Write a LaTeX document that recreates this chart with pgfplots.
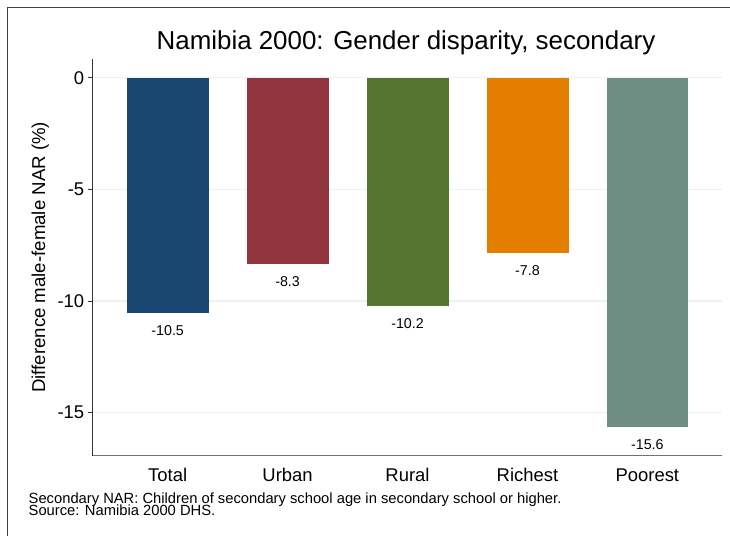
\documentclass[border=0pt]{standalone}
\usepackage{fontspec}
\setmainfont{Liberation Sans}
\usepackage{pgfplots}
\pgfplotsset{compat=1.18}
\definecolor{snavy}{HTML}{1A476F}
\definecolor{smaroon}{HTML}{90353B}
\definecolor{sgreen}{HTML}{55752F}
\definecolor{sorange}{HTML}{E37E00}
\definecolor{steal}{HTML}{6E8E84}
\definecolor{sgrid}{HTML}{EAF2F3}
\begin{document}
\begin{tikzpicture}[x=1bp,y=1bp]
  \path[use as bounding box] (0,0) rectangle (730,536);
  % outer frame (Stata graph region)
  \draw[black!75, line width=0.8bp] (7,-20) rectangle (760,529);
  \begin{axis}[
      at={(92.7bp,80.3bp)}, anchor=south west,
      scale only axis,
      width=629bp, height=396.7bp,
      xmin=-0.625, xmax=4.62,
      ymin=-16.93, ymax=0.84,
      axis x line*=bottom,
      axis y line*=left,
      x axis line style={black!55, line width=1.2bp},
      y axis line style={black!80, line width=0.8bp},
      ymajorgrids,
      grid style={sgrid, line width=1.2bp},
      tick align=outside,
      major tick length=5bp,
      xtick={0,1,2,3,4},
      xticklabels={Total, Urban, Rural, Richest, Poorest},
      xtick style={draw=none},
      ytick={-15,-10,-5,0},
      yticklabels={-15,-10,-5,0},
      ytick style={black!80, line width=0.8bp},
      xticklabel style={font=\fontsize{18.5}{21}\selectfont, anchor=base, yshift=-21bp},
      yticklabel style={font=\fontsize{18.5}{21}\selectfont},
      ylabel={Difference male-female NAR (\%)},
      ylabel style={font=\fontsize{18.7}{21}\selectfont,
        at={(axis description cs:-0.0758,0.5)}, anchor=base},
      ybar, bar width=80.6bp, bar shift=0pt,
      point meta=explicit symbolic,
      nodes near coords,
      every node near coord/.append style={font=\fontsize{14.3}{16}\selectfont,
        anchor=north, inner sep=0pt, yshift=-13bp, black},
    ]
    \addplot[fill=snavy, draw=snavy] coordinates {(0,-10.5) [-10.5]};
    \addplot[fill=smaroon, draw=smaroon] coordinates {(1,-8.3) [-8.3]};
    \addplot[fill=sgreen, draw=sgreen] coordinates {(2,-10.2) [-10.2]};
    \addplot[fill=sorange, draw=sorange] coordinates {(3,-7.8) [-7.8]};
    \addplot[fill=steal, draw=steal] coordinates {(4,-15.6) [-15.6]};
  \end{axis}
  \node[anchor=base, font=\fontsize{26}{29}\selectfont] at (406,486) {Namibia 2000: Gender disparity, secondary};
  \node[anchor=base west, inner sep=0pt, font=\fontsize{14.8}{16}\selectfont] at (28.5,32.7)
    {Secondary NAR: Children of secondary school age in secondary school or higher.};
  \node[anchor=base west, inner sep=0pt, font=\fontsize{14.8}{16}\selectfont] at (28.5,20.2)
    {Source: Namibia 2000 DHS.};
\end{tikzpicture}
\end{document}
